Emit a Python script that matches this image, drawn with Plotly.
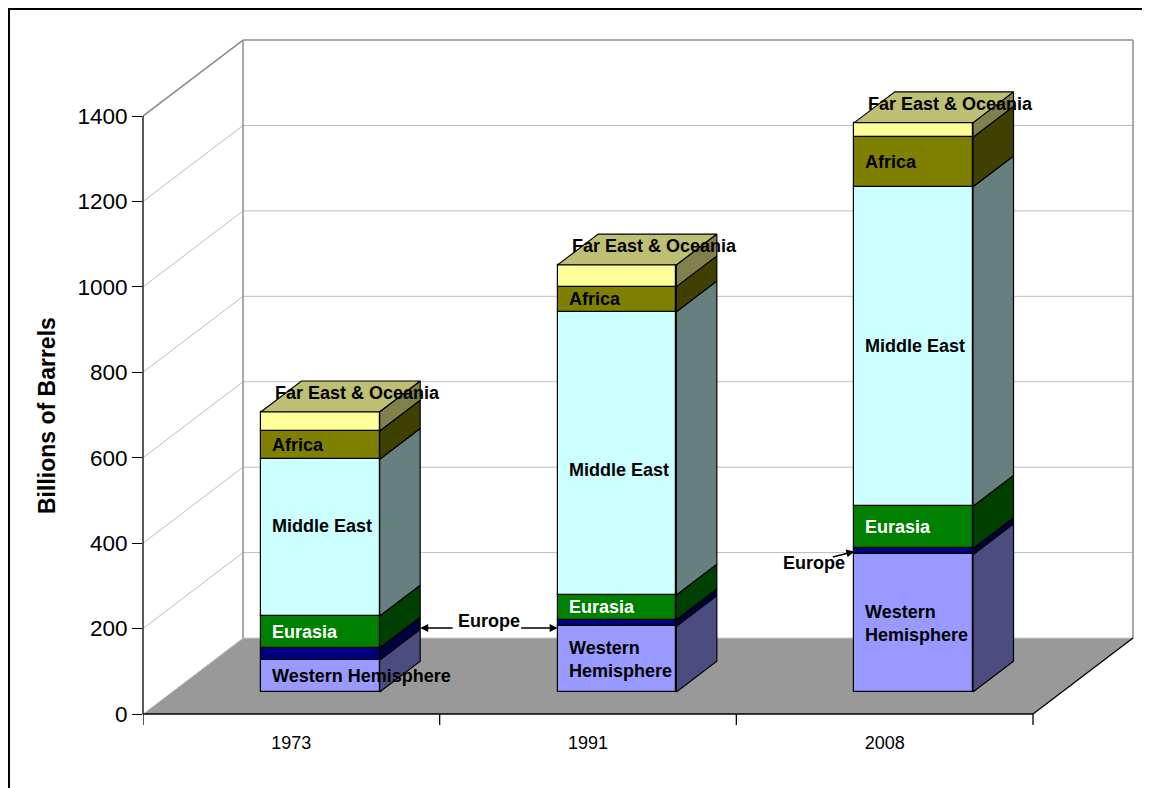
import plotly.graph_objects as go

# ---------------- data ----------------
years = ["1973", "1991", "2008"]
regions = ["Western Hemisphere", "Europe", "Eurasia", "Middle East", "Africa", "Far East & Oceania"]
western_hemisphere = [75, 154, 322]
europe = [28, 15, 14]
eurasia = [75, 58, 99]
middle_east = [367, 663, 748]
africa = [66, 59, 116]
far_east_oceania = [45, 51, 34]
y_ticks = [0, 200, 400, 600, 800, 1000, 1200, 1400]

series = [western_hemisphere, europe, eurasia, middle_east, africa, far_east_oceania]

front_colors = ["#9999FF", "#000080", "#008000", "#CCFFFF", "#808000", "#FFFF99"]
side_colors = ["#4C4C80", "#000040", "#004000", "#668080", "#404000", "#80804C"]
top_color = "#BFBF73"
label_colors = ["black", None, "white", "black", "black", "black"]
# manual label nudges (pixels, positive = up), as placed in the original chart
label_nudge = {"Middle East": [12, -17, 0]}

FONT = "Liberation Sans, Arial, Helvetica, sans-serif"

# ---------------- geometry (oblique 3-D look) ----------------
OFF = 8                   # page body margin
W, H_FIG = 1150 - OFF, 788 - OFF
LEFT = 143 - OFF
ZERO_PX = 714 - OFF
TOP_M = 36 - OFF
RIGHT_M = 10
PX_CAT = 296.67          # pixels per category
PX_VAL = 0.4271          # pixels per value unit
DX = 100 / PX_CAT        # depth offset in x units
DY = 76 / PX_VAL         # depth offset in value units
F1, F2 = 0.29, 0.695     # bar depth (front/back fraction)
BAR_W = 0.40

plot_w = W - LEFT - RIGHT_M
plot_h = ZERO_PX - TOP_M
XMAX = plot_w / PX_CAT
YMAX = plot_h / PX_VAL
ncat = len(years)
vmax = y_ticks[-1]


def px_x(p):
    """page pixel x -> paper"""
    return (p - OFF - LEFT) / plot_w


def px_y(p):
    """page pixel y -> paper"""
    return (ZERO_PX - (p - OFF)) / plot_h


fig = go.Figure()

# ---------------- walls, floor, grid (shapes below traces) ----------------
shapes = []
floor_path = "M 0,0 L {a},0 L {b},{c} L {d},{c} Z".format(a=ncat, b=ncat + DX, c=DY, d=DX)
shapes.append(dict(type="path", path=floor_path, xref="x", yref="y", layer="below",
                   fillcolor="#999999", line=dict(width=0)))
GRID = "#BDBDBD"
EDGE = "#8C8C8C"
for v in y_ticks:
    col = EDGE if v == vmax else GRID
    wd = 1.5 if v == vmax else 1
    if v == 0:
        col = "#D0D0D0"
    shapes.append(dict(type="line", xref="x", yref="y", layer="below",
                       x0=0, y0=v, x1=DX, y1=v + DY, line=dict(color=col, width=wd)))
    shapes.append(dict(type="line", xref="x", yref="y", layer="below",
                       x0=DX, y0=v + DY, x1=ncat + DX, y1=v + DY, line=dict(color=col, width=wd)))
for xx in (DX, ncat + DX):
    shapes.append(dict(type="line", xref="x", yref="y", layer="below",
                       x0=xx, y0=DY, x1=xx, y1=vmax + DY, line=dict(color=EDGE, width=1.5)))
# floor front edge and right edge
shapes.append(dict(type="line", xref="x", yref="paper", layer="above",
                   x0=0, y0=0, x1=ncat, y1=0, line=dict(color="black", width=1.3)))
shapes.append(dict(type="line", xref="x", yref="y", layer="below",
                   x0=ncat, y0=0, x1=ncat + DX, y1=DY, line=dict(color="black", width=1.3)))
# value axis line
shapes.append(dict(type="line", xref="paper", yref="y", layer="above",
                   x0=0, y0=0, x1=0, y1=vmax, line=dict(color="black", width=1.3)))
# category boundary ticks
for i in range(ncat + 1):
    shapes.append(dict(type="line", xref="x", yref="paper", layer="above",
                       x0=i, y0=0, x1=i, y1=-11 / plot_h, line=dict(color="black", width=1.3)))
# outer chart border
shapes.append(dict(type="rect", xref="paper", yref="paper", layer="above",
                   x0=px_x(OFF + 1), y0=px_y(820), x1=px_x(1180), y1=px_y(OFF + 1),
                   line=dict(color="black", width=2), fillcolor="rgba(0,0,0,0)"))

# ---------------- bars ----------------
centers = [i + 0.5 + F1 * DX for i in range(ncat)]
sdx = (F2 - F1) * DX
sdy = (F2 - F1) * DY
bases = []
cum = [F1 * DY] * ncat
for vals in series:
    bases.append(list(cum))
    cum = [c + v for c, v in zip(cum, vals)]
tops = cum

# side faces
for k, vals in enumerate(series):
    xs, ys = [], []
    for i in range(ncat):
        xr = centers[i] + BAR_W / 2
        b = bases[k][i]
        t = b + vals[i]
        xs += [xr, xr + sdx, xr + sdx, xr, xr, None]
        ys += [b, b + sdy, t + sdy, t, b, None]
    fig.add_trace(go.Scatter(x=xs, y=ys, mode="lines", fill="toself",
                             fillcolor=side_colors[k], line=dict(color="black", width=1.2),
                             hoverinfo="skip", showlegend=False))
# top faces
xs, ys = [], []
for i in range(ncat):
    xl = centers[i] - BAR_W / 2
    xr = centers[i] + BAR_W / 2
    t = tops[i]
    xs += [xl, xr, xr + sdx, xl + sdx, xl, None]
    ys += [t, t, t + sdy, t + sdy, t, None]
fig.add_trace(go.Scatter(x=xs, y=ys, mode="lines", fill="toself", fillcolor=top_color,
                         line=dict(color="black", width=1.2), hoverinfo="skip", showlegend=False))

# front faces
for k, vals in enumerate(series):
    fig.add_trace(go.Bar(x=centers, y=vals, base=bases[k], width=BAR_W, name=regions[k],
                         marker=dict(color=front_colors[k], line=dict(color="black", width=1.2)),
                         showlegend=False))

# ---------------- labels ----------------
LBL = 18
ann = []
for k, vals in enumerate(series):
    name = regions[k]
    if name == "Europe":
        continue
    for i in range(ncat):
        xl = centers[i] - BAR_W / 2
        if name == "Far East & Oceania":
            ann.append(dict(x=xl, y=tops[i], xref="x", yref="y", text=name, showarrow=False,
                            xanchor="left", yanchor="middle", xshift=12, yshift=19,
                            font=dict(family=FONT, size=LBL, color="black", weight="bold")))
            continue
        txt = name
        if name == "Western Hemisphere" and vals[i] * PX_VAL >= 50:
            txt = "Western<br>Hemisphere"
        nudge = label_nudge.get(name, [0] * ncat)[i]
        ann.append(dict(x=xl, y=bases[k][i] + vals[i] / 2, xref="x", yref="y", text=txt,
                        showarrow=False, xanchor="left", yanchor="middle", align="left",
                        xshift=9, yshift=nudge,
                        font=dict(family=FONT, size=LBL, color=label_colors[k], weight="bold")))

# Europe call-outs
eu = regions.index("Europe")
y_eu = bases[eu][1] + europe[1] / 2
head1 = centers[0] + BAR_W / 2 + sdx
head2 = centers[1] - BAR_W / 2
arrow = dict(showarrow=True, arrowhead=2, arrowsize=1, arrowwidth=1.6, arrowcolor="black",
             text="", xref="x", yref="y", standoff=0)
ann.append(dict(arrow, x=head1, y=y_eu, ax=34, ay=0, yshift=-5))
ann.append(dict(arrow, x=head2, y=y_eu, ax=-38, ay=0, yshift=-5))
ann.append(dict(x=(head1 + head2) / 2, y=y_eu, xref="x", yref="y", text="Europe", showarrow=False,
                yshift=2, font=dict(family=FONT, size=LBL, color="black", weight="bold")))
y_eu3 = bases[eu][2] + europe[2] / 2
head3 = centers[2] - BAR_W / 2
ann.append(dict(arrow, x=head3, y=y_eu3, ax=-23, ay=6))
ann.append(dict(x=head3, y=y_eu3, xref="x", yref="y", text="Europe", showarrow=False,
                xshift=-40, yshift=-12, font=dict(family=FONT, size=LBL, color="black", weight="bold")))

# axis title
ann.append(dict(x=px_x(47), y=px_y(416), xref="paper", yref="paper", text="Billions of Barrels",
                textangle=-90, showarrow=False, xanchor="center", yanchor="middle",
                font=dict(family=FONT, size=23, color="black", weight="bold")))

fig.update_layout(
    width=W, height=H_FIG, autosize=False,
    margin=dict(l=LEFT, r=RIGHT_M, t=TOP_M, b=H_FIG - ZERO_PX, pad=0),
    paper_bgcolor="white", plot_bgcolor="white",
    barmode="overlay", bargap=0,
    shapes=shapes, annotations=ann,
    xaxis=dict(range=[0, XMAX], tickmode="array", tickvals=[i + 0.5 for i in range(ncat)],
               ticktext=years, ticks="outside", ticklen=12, tickcolor="rgba(0,0,0,0)",
               showgrid=False, zeroline=False, showline=False, fixedrange=True,
               tickfont=dict(family=FONT, size=18, color="black")),
    yaxis=dict(range=[0, YMAX], tickmode="array", tickvals=y_ticks,
               ticktext=[str(v) for v in y_ticks], ticks="outside", ticklen=10,
               tickcolor="black", tickwidth=1.3, showgrid=False, zeroline=False,
               showline=False, fixedrange=True,
               tickfont=dict(family=FONT, size=22.5, color="black")),
    showlegend=False,
)

fig.write_html("out.html")
